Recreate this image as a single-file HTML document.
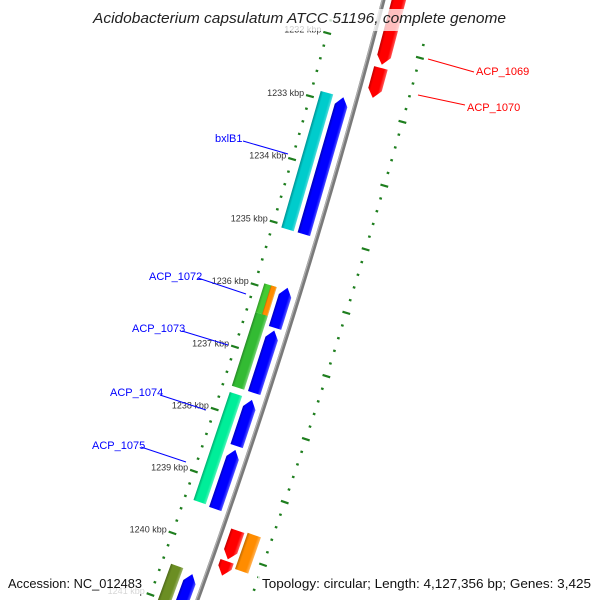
<!DOCTYPE html>
<html><head><meta charset="utf-8">
<style>
html,body{margin:0;padding:0;background:#fff;width:600px;height:600px;overflow:hidden;}
svg{display:block;overflow:hidden;font-family:"Liberation Sans","DejaVu Sans",sans-serif;}
</style></head>
<body>
<svg id="map" width="600" height="600" viewBox="0 0 600 600" xmlns="http://www.w3.org/2000/svg">
<defs id="defs"></defs>
<g id="ticks"></g>
<g id="backbone"></g>
<g id="features"></g>
<g id="labels">
  <line x1="428" y1="59" x2="474" y2="72" stroke="#ff0000" stroke-width="1"/>
  <text x="476" y="75" font-size="11" fill="#ff0000">ACP_1069</text>
  <line x1="418" y1="95" x2="465" y2="105" stroke="#ff0000" stroke-width="1"/>
  <text x="467" y="111" font-size="11" fill="#ff0000">ACP_1070</text>
  <line x1="243" y1="141" x2="288" y2="154" stroke="#0000ff" stroke-width="1"/>
  <text x="215" y="142" font-size="11" fill="#0000ff">bxlB1</text>
  <line x1="198" y1="278" x2="246" y2="294" stroke="#0000ff" stroke-width="1"/>
  <text x="149" y="280" font-size="11" fill="#0000ff">ACP_1072</text>
  <line x1="182" y1="331" x2="228" y2="345" stroke="#0000ff" stroke-width="1"/>
  <text x="132" y="332" font-size="11" fill="#0000ff">ACP_1073</text>
  <line x1="160" y1="395" x2="206" y2="410" stroke="#0000ff" stroke-width="1"/>
  <text x="110" y="396" font-size="11" fill="#0000ff">ACP_1074</text>
  <line x1="141" y1="447" x2="186" y2="462" stroke="#0000ff" stroke-width="1"/>
  <text x="92" y="449" font-size="11" fill="#0000ff">ACP_1075</text>
</g>
<rect x="88" y="9" width="424" height="22" fill="#fff" opacity="0.75"/>
<text x="93" y="23" font-size="15" font-style="italic" fill="#222" textLength="413" lengthAdjust="spacingAndGlyphs">Acidobacterium capsulatum ATCC 51196, complete genome</text>
<rect x="4" y="574" width="142" height="20" fill="#fff" opacity="0.8"/>
<text x="8" y="588" font-size="13" fill="#111" textLength="134" lengthAdjust="spacingAndGlyphs">Accession: NC_012483</text>
<rect x="258" y="574" width="338" height="20" fill="#fff" opacity="0.8"/>
<text x="262" y="588" font-size="13" fill="#111" textLength="329" lengthAdjust="spacingAndGlyphs">Topology: circular; Length: 4,127,356 bp; Genes: 3,425</text>
</svg>
<script>
// feature data (kbp)
const featNames  = ["ACP_1069","ACP_1070","bxlB1","bxlB1-cog","ACP_1072","ACP_1072-cog-a","ACP_1072-cog-b","ACP_1073","ACP_1073-cog","ACP_1074","ACP_1075","ACP_1074-75-cog","ACP_1076","ACP_1077","ACP_1076-cog","ACP_1078","ACP_1078-cog"];
const featStart  = [1230.8,1232.30,1232.88,1232.88,1235.90,1235.94,1235.94,1236.58,1236.40,1237.69,1238.49,1237.68,1239.64,1240.13,1239.62,1240.49,1240.45];
const featEnd    = [1232.25,1232.77,1235.05,1235.05,1236.54,1236.40,1236.48,1237.58,1237.58,1238.43,1239.44,1239.42,1240.10,1240.36,1240.20,1241.9,1241.9];
const featStrand = [1,1,-1,-1,-1,-1,-1,-1,-1,-1,-1,-1,1,1,1,-1,-1];
const featKind   = ["cds","cds","cds","cog","cds","cog","cog2","cds","cog","cds","cds","cog","cds","cds","cog","cds","cog"];
const featColor  = ["#ff0000","#ff0000","#0000ff","#00cccc","#0000ff","#44cc33","#ff8c00","#0000ff","#33bb33","#0000ff","#0000ff","#00ee99","#ff0000","#ff0000","#ff8c00","#0000ff","#6b8e23"];
const tickStart = 1231.8, tickEnd = 1241.9;
const majorKbp = [1232,1233,1234,1235,1236,1237,1238,1239,1240,1241];
const majorLabels = ["1232 kbp","1233 kbp","1234 kbp","1235 kbp","1236 kbp","1237 kbp","1238 kbp","1239 kbp","1240 kbp","1241 kbp"];

const CX=-6293, CY=-1742, R0=6900;
function theta(k){ return (15.556 + (k-1233)*0.547) * Math.PI/180; }
function pt(k,v){ const t=theta(k), r=R0+v; return [CX+r*Math.cos(t), CY+r*Math.sin(t)]; }
const NS="http://www.w3.org/2000/svg";
function mk(tag,attrs,parent){ const e=document.createElementNS(NS,tag); for(const a in attrs) e.setAttribute(a,attrs[a]); parent.appendChild(e); return e; }
function shade(hex,f){ let n=parseInt(hex.slice(1),16); let r=n>>16,g=(n>>8)&255,b=n&255;
  if(f<0){r=r*(1+f);g=g*(1+f);b=b*(1+f);} else {r=r+(255-r)*f;g=g+(255-g)*f;b=b+(255-b)*f;}
  return "rgb("+Math.round(r)+","+Math.round(g)+","+Math.round(b)+")"; }

// backbone
const bb=document.getElementById('backbone');
let pts=[]; for(let k=1231; k<=1242.5; k+=0.1){ pts.push(pt(k,0).join(',')); }
const bl1=mk('polyline',{points:pts.join(' '),fill:'none',stroke:'#7a7a7a','stroke-width':4},bb);


let pts2=[]; for(let k=1231; k<=1242.5; k+=0.1){ pts2.push(pt(k,-1.2).join(',')); }
const bl2=mk('polyline',{points:pts2.join(' '),fill:'none',stroke:'#b0b0b0','stroke-width':1.2},bb);



// ticks
const tg=document.getElementById('ticks');
for(let i=0;i*0.2+tickStart<=tickEnd+1e-6;i++){
  const k=Math.round((tickStart+i*0.2)*10)/10;
  const major=Math.abs(k-Math.round(k))<1e-6;
  [-46,50].forEach(function(rv){
    const L= major?4:1.3;
    const a=pt(k,rv-L), b=pt(k,rv+L);
    const ln=mk('line',{x1:a[0],y1:a[1],x2:b[0],y2:b[1],stroke:'#1e7e1e','stroke-width':2.2},tg);
    
    
  });
}
majorKbp.forEach(function(k,i){
  const p=pt(k,-51);
  const t=mk('text',{x:p[0]-1,y:p[1]+1,'font-size':9,fill:'#333','text-anchor':'end'},tg);
  t.textContent=majorLabels[i];
  
  
});

// features
const fg=document.getElementById('features'), defs=document.getElementById('defs');
featStart.forEach(function(s,i){
  const e=featEnd[i], st=featStrand[i], kind=featKind[i], col=featColor[i];
  let v1,v2;
  if(kind==='cds'){ if(st>0){v1=8;v2=22;} else {v1=-20;v2=-7;} }
  else if(kind==='cog'){ if(st>0){v1=25;v2=39;} else {v1=-37;v2=-24;} }
  else { v1=-30; v2=-24; }
  const ga=pt((s+e)/2,v1), gb=pt((s+e)/2,v2);
  const gid='g'+i;
  const gr=mk('linearGradient',{id:gid,gradientUnits:'userSpaceOnUse',x1:ga[0],y1:ga[1],x2:gb[0],y2:gb[1]},defs);
  mk('stop',{offset:'0',  'stop-color':shade(col,-0.25)},gr);
  mk('stop',{offset:'0.2','stop-color':col},gr);
  mk('stop',{offset:'0.75','stop-color':col},gr);
  mk('stop',{offset:'1',  'stop-color':shade(col,0.35)},gr);
  let poly;
  const h=0.13, vm=(v1+v2)/2;
  if(kind==='cds' && st>0){
    const eb=Math.max(s,e-h);
    poly=[pt(s,v1),pt(eb,v1),pt(e,vm),pt(eb,v2),pt(s,v2)];
  } else if(kind==='cds'){
    const sb=Math.min(e,s+h);
    poly=[pt(s,vm),pt(sb,v1),pt(e,v1),pt(e,v2),pt(sb,v2)];
  } else {
    poly=[pt(s,v1),pt(e,v1),pt(e,v2),pt(s,v2)];
  }
  const pg=mk('polygon',{points:poly.map(p=>p.join(',')).join(' '),fill:'url(#'+gid+')'},fg);
  
  
});
</script>
</body></html>
